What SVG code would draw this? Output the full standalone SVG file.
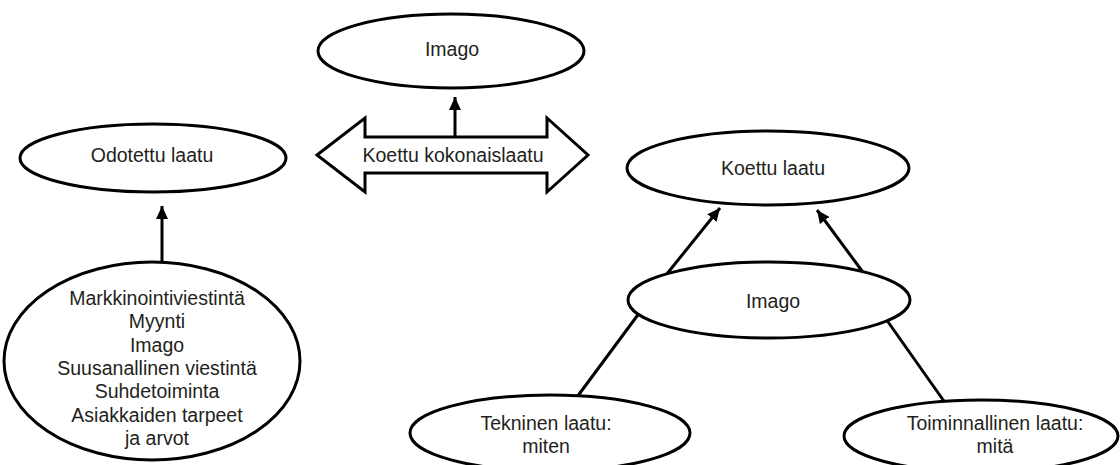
<svg xmlns="http://www.w3.org/2000/svg" width="1120" height="465" viewBox="0 0 1120 465">
<style>
.n{fill:#fff;stroke:#000;stroke-width:3}
.c{stroke:#000;stroke-width:3;fill:none}
text{font-family:"Liberation Sans",Arial,sans-serif;font-size:19.5px;fill:#231f20;text-anchor:middle}
</style>
<defs>
<marker id="ah" markerUnits="userSpaceOnUse" markerWidth="14" markerHeight="14" refX="13" refY="7" orient="auto" viewBox="0 0 14 14">
<path d="M0,1 L13,7 L0,13 z" fill="#000"/>
</marker>
</defs>
<rect width="1120" height="465" fill="#fff"/>
<g id="connectors">
<line class="c" x1="162" y1="264" x2="162" y2="206" marker-end="url(#ah)"/>
<line class="c" x1="455" y1="138" x2="455" y2="97" marker-end="url(#ah)"/>
<line class="c" x1="577" y1="397" x2="640" y2="312"/>
<line class="c" x1="666" y1="275" x2="720" y2="208" marker-end="url(#ah)"/>
<line class="c" x1="946" y1="404" x2="886" y2="319"/>
<line class="c" x1="865" y1="275" x2="817" y2="210" marker-end="url(#ah)"/>
</g>
<g id="imago-top">
<ellipse class="n" cx="451" cy="51" rx="133" ry="37"/>
<text x="452" y="56">Imago</text>
</g>
<g id="koettu-kokonaislaatu">
<polygon class="n" points="317,155 365,118 365,137 547,137 547,118 588,155 547,192 547,173 365,173 365,192"/>
<text x="453" y="162">Koettu kokonaislaatu</text>
</g>
<g id="odotettu-laatu">
<ellipse class="n" cx="153" cy="158" rx="133" ry="34"/>
<text x="152" y="162">Odotettu laatu</text>
</g>
<g id="tekijat">
<ellipse class="n" cx="152" cy="361" rx="148" ry="99"/>
<text x="157" y="305">Markkinointiviestintä</text>
<text x="157" y="328">Myynti</text>
<text x="157" y="352">Imago</text>
<text x="157" y="375">Suusanallinen viestintä</text>
<text x="157" y="398">Suhdetoiminta</text>
<text x="157" y="422">Asiakkaiden tarpeet</text>
<text x="157" y="445">ja arvot</text>
</g>
<g id="koettu-laatu">
<ellipse class="n" cx="768" cy="168" rx="141" ry="37"/>
<text x="773" y="175">Koettu laatu</text>
</g>
<g id="imago-mid">
<ellipse class="n" cx="769" cy="300" rx="141" ry="38"/>
<text x="773" y="308">Imago</text>
</g>
<g id="tekninen-laatu">
<ellipse class="n" cx="550" cy="433" rx="140" ry="38"/>
<text x="546" y="430">Tekninen laatu:</text>
<text x="546" y="453">miten</text>
</g>
<g id="toiminnallinen-laatu">
<ellipse class="n" cx="981" cy="436" rx="137" ry="36"/>
<text x="995" y="430">Toiminnallinen laatu:</text>
<text x="995" y="453">mitä</text>
</g>
</svg>
